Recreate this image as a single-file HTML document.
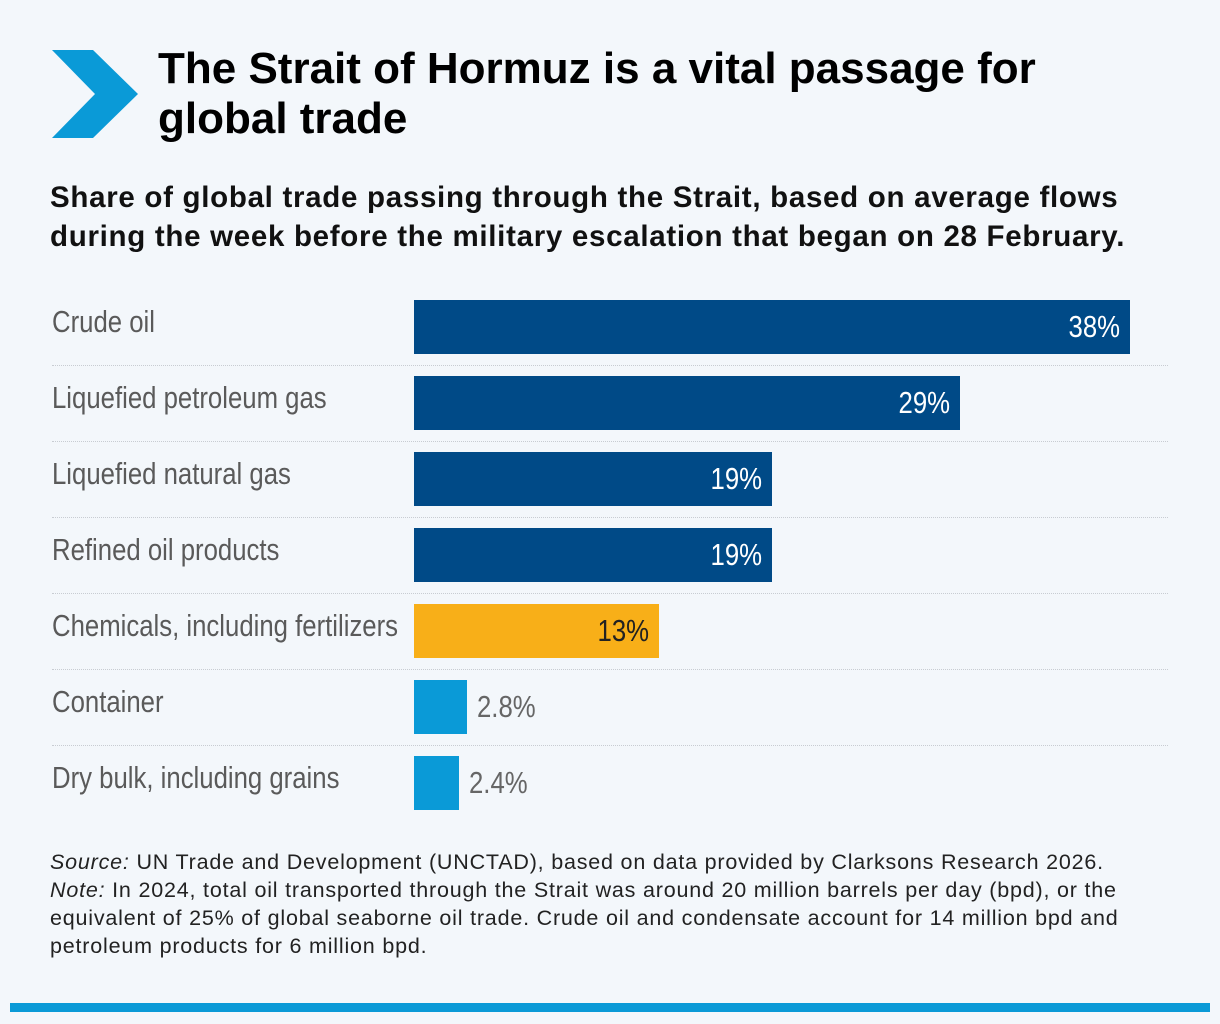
<!DOCTYPE html>
<html><head><meta charset="utf-8"><style>
body{margin:0;width:1220px;height:1024px;background:#f3f7fb;position:relative;overflow:hidden;font-family:"Liberation Sans",sans-serif;}
.abs{position:absolute;}
#title{left:158px;top:44px;font-size:44px;font-weight:bold;line-height:50px;color:#000;}
#subtitle{left:50px;top:178px;font-size:29.5px;font-weight:bold;line-height:39px;color:#111;letter-spacing:0.7px;}
.lbl{position:absolute;left:52px;font-size:31px;color:#5a5a5a;white-space:nowrap;transform:scaleX(0.83);transform-origin:left center;line-height:44px;}
.bar{position:absolute;height:54px;}
.val{position:absolute;font-size:31px;white-space:nowrap;line-height:54px;transform:scaleX(0.83);}
.sep{position:absolute;left:52px;width:1116px;border-top:1.5px dotted #c8ccd2;}
#footer{left:50px;top:848px;font-size:21.5px;line-height:28px;color:#222;letter-spacing:0.8px;}
</style></head><body>
<svg class="abs" style="left:0;top:0" width="150" height="150"><polygon points="52,50 93,50 138,94 93,138 52,138 95,94" fill="#0a9ad7"/></svg>
<div id="title" class="abs">The Strait of Hormuz is a vital passage for<br>global trade</div>
<div id="subtitle" class="abs">Share of global trade passing through the Strait, based on average flows<br>during the week before the military escalation that began on 28 February.</div>
<div id="chart"></div>
<div id="footer" class="abs"><i>Source:</i> UN Trade and Development (UNCTAD), based on data provided by Clarksons Research 2026.<br><i>Note:</i> In 2024, total oil transported through the Strait was around 20 million barrels per day (bpd), or the<br>equivalent of 25% of global seaborne oil trade. Crude oil and condensate account for 14 million bpd and<br>petroleum products for 6 million bpd.</div>
<div class="abs" style="left:10px;top:1003px;width:1200px;height:9px;background:#0a9ad7"></div>
<script>
const categories=["Crude oil","Liquefied petroleum gas","Liquefied natural gas","Refined oil products","Chemicals, including fertilizers","Container","Dry bulk, including grains"];
const values=[38,29,19,19,13,2.8,2.4];
const valueLabels=["38%","29%","19%","19%","13%","2.8%","2.4%"];
const colorGroups=["dark","dark","dark","dark","amber","light","light"];
const colors={dark:"#004a87",amber:"#f8af18",light:"#0a9ad7"};
const x0=414,pxPer=716/38,top0=300,step=76,bh=54;
const xs=v=>v*pxPer;
const c=document.getElementById('chart');
categories.forEach((cat,i)=>{
  const y=top0+i*step;
  const l=document.createElement('div');l.className='lbl';l.style.top=(y)+'px';l.textContent=cat;
  
  
  c.appendChild(l);
  const b=document.createElement('div');b.className='bar';
  b.style.left=x0+'px';b.style.top=y+'px';b.style.width=xs(values[i])+'px';b.style.background=colors[colorGroups[i]];
  
  
  c.appendChild(b);
  const v=document.createElement('div');v.className='val';v.textContent=valueLabels[i];v.style.top=y+'px';
  
  
  if(values[i]>8){v.style.right=(1220-x0-xs(values[i])+10)+'px';v.style.transformOrigin='right center';v.style.color=colorGroups[i]=='amber'?'#222':'#fff';}
  else{v.style.left=(x0+xs(values[i])+10)+'px';v.style.transformOrigin='left center';v.style.color='#666';}
  c.appendChild(v);
  if(i<categories.length-1){const s=document.createElement('div');s.className='sep';s.style.top=(y+bh+11)+'px';
  
  
  c.appendChild(s);}
});
</script>
</body></html>
